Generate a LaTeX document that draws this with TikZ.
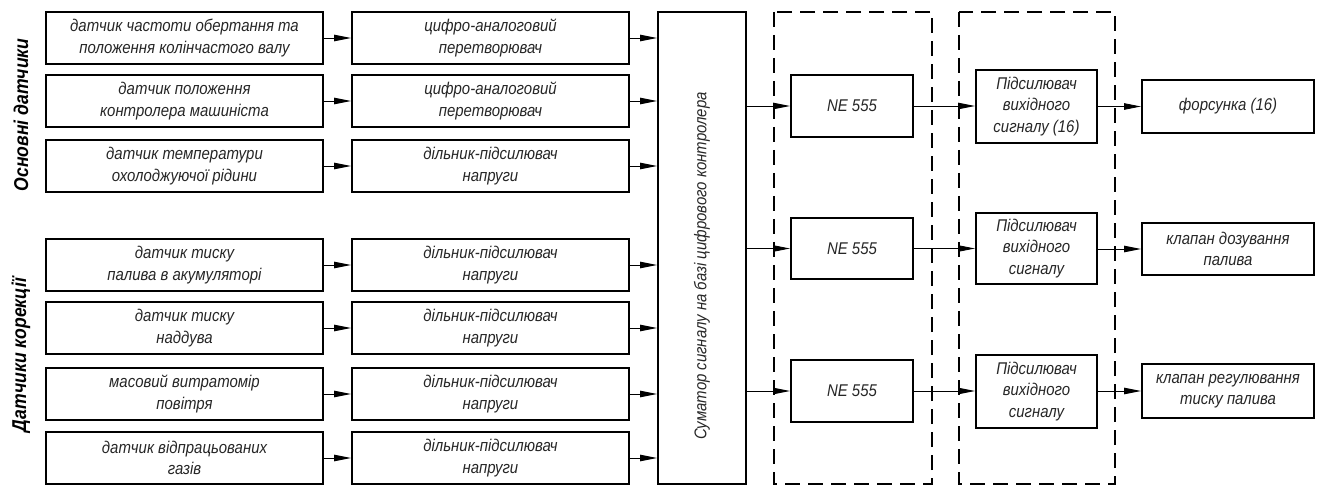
\documentclass[tikz,border=0pt]{standalone}
\usepackage{fontspec}
\setmainfont{Liberation Sans}[FakeStretch=0.88]
\usetikzlibrary{arrows.meta}
\begin{document}
\begin{tikzpicture}[x=1pt,y=-1pt,
  box/.style={draw=black,line width=2pt,inner sep=0pt,align=center,
    font=\fontsize{17}{21.5}\selectfont\itshape,text=black!85},
  arr/.style={line width=0.9pt,-{Triangle[length=17pt,width=6.5pt]}},
  dbox/.style={draw=black,line width=2pt,dash pattern=on 15pt off 8pt},
  side/.style={rotate=90,font=\fontsize{20}{22}\selectfont\bfseries\itshape,inner sep=0pt}]
\useasboundingbox (0,0) rectangle (1325,486);
% left column
\foreach \n/\cy/\t in {1/38/{датчик частоти обертання та\\положення колінчастого валу},
  2/101/{датчик положення\\контролера машиніста},
  3/166/{датчик температури\\охолоджуючої рідини},
  4/265/{датчик тиску\\палива в акумуляторі},
  5/328/{датчик тиску\\наддува},
  6/394/{масовий витратомір\\повітря},
  7/458/{датчик відпрацьованих\\газів}}
  \node[box,minimum width=277pt,minimum height=52pt] (s\n) at (184.5,\cy) {\t};
\foreach \n/\cy/\t in {1/38/{цифро-аналоговий\\перетворювач},
  2/101/{цифро-аналоговий\\перетворювач},
  3/166/{дільник-підсилювач\\напруги},
  4/265/{дільник-підсилювач\\напруги},
  5/328/{дільник-підсилювач\\напруги},
  6/394/{дільник-підсилювач\\напруги},
  7/458/{дільник-підсилювач\\напруги}}
  \node[box,minimum width=277pt,minimum height=52pt] (c\n) at (490.5,\cy) {\t};
\node[box,minimum width=88pt,minimum height=472pt] (sum) at (702,248) {};
\node[rotate=90,font=\fontsize{17}{18}\selectfont\itshape,text=black!85,inner sep=0pt] (sumt) at (702,266) {Суматор сигналу на базі цифрового контролера};
% dashed groups
\draw[dbox] (774,12) rectangle (932,484);
\draw[dbox] (959,12) rectangle (1115,484);
% NE 555
\node[box,minimum width=122pt,minimum height=62pt] (ne1) at (852,106) {NE 555};
\node[box,minimum width=122pt,minimum height=61pt] (ne2) at (852,248.5) {NE 555};
\node[box,minimum width=122pt,minimum height=62pt] (ne3) at (852,391) {NE 555};
% amplifiers
\node[box,minimum width=121pt,minimum height=73pt] (a1) at (1036.5,106.5) {Підсилювач\\вихідного\\сигналу (16)};
\node[box,minimum width=121pt,minimum height=71pt] (a2) at (1036.5,248.5) {Підсилювач\\вихідного\\сигналу};
\node[box,minimum width=121pt,minimum height=73pt] (a3) at (1036.5,391.5) {Підсилювач\\вихідного\\сигналу};
% outputs
\node[box,minimum width=172pt,minimum height=53pt] (o1) at (1228,106.5) {форсунка (16)};
\node[box,minimum width=172pt,minimum height=52pt] (o2) at (1228,249) {клапан дозування\\палива};
\node[box,minimum width=172pt,minimum height=54pt] (o3) at (1228,391) {клапан регулювання\\тиску палива};
% side labels
\node[side] (l1) at (21,115) {Основні датчики};
\node[side] (l2) at (21,355) {Датчики корекції};
% connectors
\foreach \n in {1,...,7} {
  \draw[arr] (s\n.east) -- (c\n.west);
  \draw[arr] (c\n.east) -- (c\n.east -| sum.west);
}
\foreach \n in {1,2,3} {
  \draw[arr] (ne\n.west -| sum.east) -- (ne\n.west);
  \draw[arr] (ne\n.east) -- (a\n.west |- ne\n.east);
  \draw[arr] (a\n.east |- o\n.west) -- (o\n.west);
}
\end{tikzpicture}
\end{document}
